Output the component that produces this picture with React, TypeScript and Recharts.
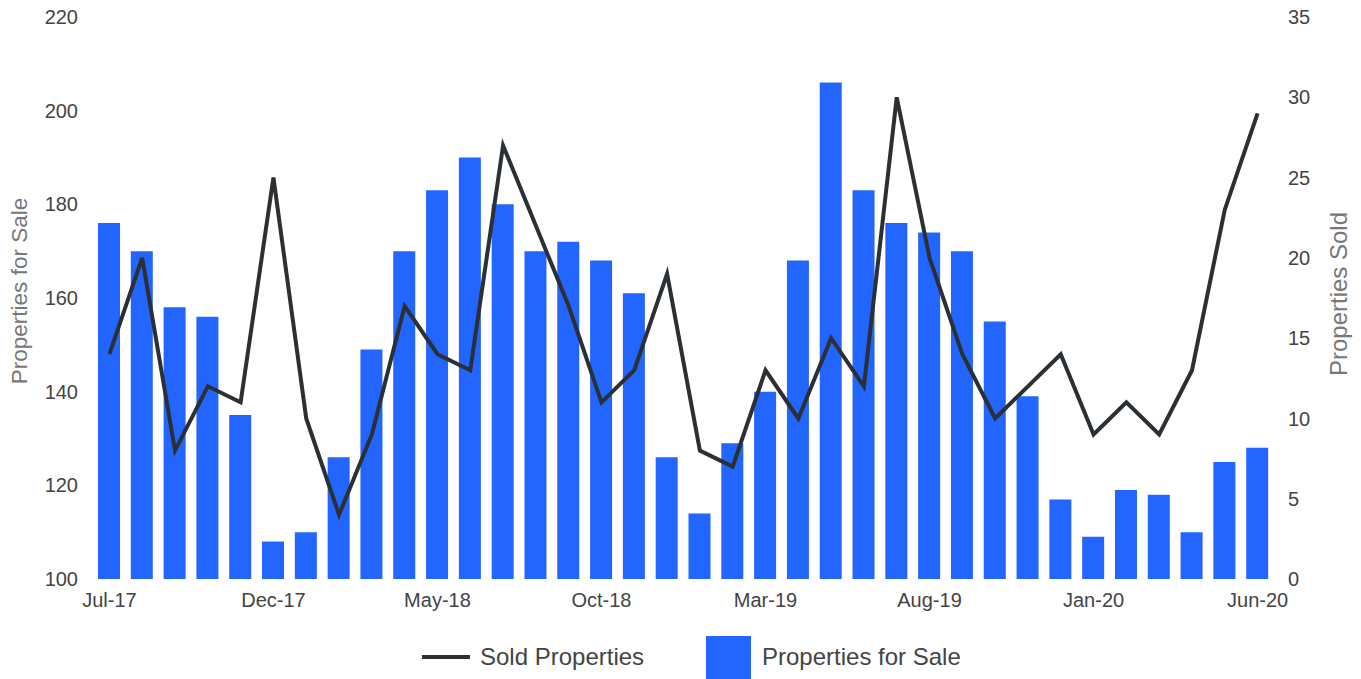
import React from "react";
import { ComposedChart, Bar, Line, XAxis, YAxis } from "recharts";

const months = [
  "Jul-17", "Aug-17", "Sep-17", "Oct-17", "Nov-17", "Dec-17",
  "Jan-18", "Feb-18", "Mar-18", "Apr-18", "May-18", "Jun-18",
  "Jul-18", "Aug-18", "Sep-18", "Oct-18", "Nov-18", "Dec-18",
  "Jan-19", "Feb-19", "Mar-19", "Apr-19", "May-19", "Jun-19",
  "Jul-19", "Aug-19", "Sep-19", "Oct-19", "Nov-19", "Dec-19",
  "Jan-20", "Feb-20", "Mar-20", "Apr-20", "May-20", "Jun-20",
];

const forSale = [
  176, 170, 158, 156, 135, 108, 110, 126, 149, 170, 183, 190,
  180, 170, 172, 168, 161, 126, 114, 129, 140, 168, 206, 183,
  176, 174, 170, 155, 139, 117, 109, 119, 118, 110, 125, 128,
];

const sold = [
  14, 20, 8, 12, 11, 25, 10, 4, 9, 17, 14, 13,
  27, 22, 17, 11, 13, 19, 8, 7, 13, 10, 15, 12,
  30, 20, 14, 10, 12, 14, 9, 11, 9, 13, 23, 29,
];

const leftTicks = [100, 120, 140, 160, 180, 200, 220];
const rightTicks = [0, 5, 10, 15, 20, 25, 30, 35];

const data = months.map((m, i) => ({ month: m, forSale: forSale[i], sold: sold[i] }));

const BAR = "#2266ff";
const LINE = "#2b3035";
const FONT = "Liberation Sans, Arial, sans-serif";
const TICK = { fill: "#444", fontSize: 20, fontFamily: FONT };

const AxisTitle = ({ viewBox, text, dx, dy, size }: any) => {
  const x = viewBox.x + dx;
  const y = viewBox.y + viewBox.height / 2 + dy;
  return (
    <text
      x={x}
      y={y}
      transform={`rotate(-90 ${x} ${y})`}
      textAnchor="middle"
      dominantBaseline="central"
      fill="#777"
      fontSize={size}
      fontFamily={FONT}
    >
      {text}
    </text>
  );
};

export default function App() {
  return (
    <div style={{ position: "absolute", left: 0, top: 0, width: 1361, height: 679, overflow: "hidden", background: "#fff" }}>
      <ComposedChart
        width={1361}
        height={679}
        data={data}
        margin={{ top: 17, right: 0, left: 0, bottom: 60 }}
      >
        <XAxis
          dataKey="month"
          interval={4}
          tick={TICK}
          tickLine={false}
          axisLine={false}
          tickSize={0}
          tickMargin={14}
          height={40}
        />
        <YAxis
          yAxisId="left"
          domain={[100, 220]}
          ticks={leftTicks}
          tick={TICK}
          tickLine={false}
          axisLine={false}
          tickSize={0}
          tickMargin={15}
          width={93}
          label={(p: any) => <AxisTitle {...p} text="Properties for Sale" dx={19} dy={-7} size={22.5} />}
        />
        <YAxis
          yAxisId="right"
          orientation="right"
          domain={[0, 35]}
          ticks={rightTicks}
          tick={{ ...TICK, textAnchor: "start" }}
          tickLine={false}
          axisLine={false}
          tickSize={0}
          tickMargin={14}
          width={87}
          label={(p: any) => <AxisTitle {...p} text="Properties Sold" dx={64} dy={-4} size={24} />}
        />
        <Bar yAxisId="left" dataKey="forSale" fill={BAR} barSize={22} isAnimationActive={false} />
        <Line
          yAxisId="right"
          dataKey="sold"
          type="linear"
          stroke={LINE}
          strokeWidth={4}
          dot={false}
          isAnimationActive={false}
        />
      </ComposedChart>
      <div
        style={{
          position: "absolute",
          left: 0,
          top: 636,
          width: 1361,
          height: 45,
          fontFamily: FONT,
          fontSize: 24,
          color: "#444",
        }}
      >
        <div style={{ position: "absolute", left: 422, top: 19, width: 48, height: 4, background: LINE }} />
        <div style={{ position: "absolute", left: 480, top: 8, lineHeight: "26px" }}>Sold Properties</div>
        <div style={{ position: "absolute", left: 706, top: 0, width: 45, height: 45, background: BAR }} />
        <div style={{ position: "absolute", left: 762, top: 8, lineHeight: "26px" }}>Properties for Sale</div>
      </div>
    </div>
  );
}
